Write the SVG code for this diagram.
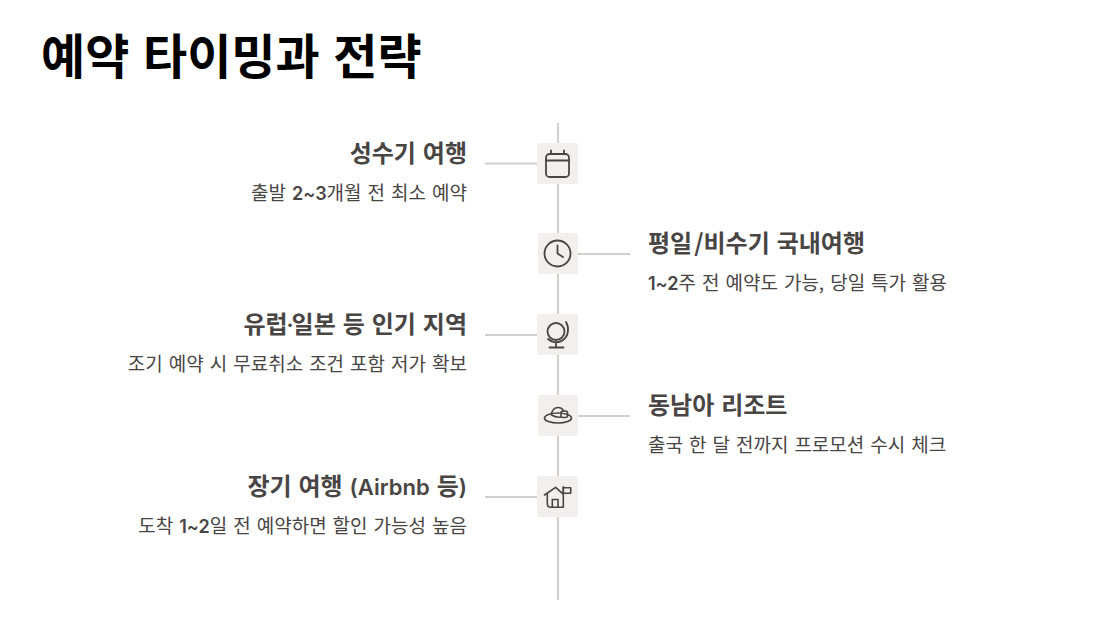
<svg xmlns="http://www.w3.org/2000/svg" width="1116" height="628" viewBox="0 0 1116 628">
<style>
text{font-family:"Noto Sans CJK KR",sans-serif;fill:#484544}
.title{font-size:48px;font-weight:700;fill:#000;word-spacing:2.750px}
.h{font-size:24px;font-weight:600;word-spacing:1.500px}
.d{font-size:19px;font-weight:400;word-spacing:1.750px}
.l{font-family:Inter,sans-serif;font-weight:600;font-size:22px}
.m{font-family:Inter,sans-serif;font-weight:600;font-size:18px}
.r{text-anchor:end}
.c{stroke:#d3cfcf;stroke-width:2;fill:none}
.b{fill:#f2efee}
.i{fill:none;stroke:#484544;stroke-width:1.6;stroke-linecap:round;stroke-linejoin:round}
.t{stroke-width:1.800}
</style>
<rect width="1116" height="628" fill="#fff"/>
<text class="title" x="41" y="74">예약 타이밍과 전략</text>
<g id="connectors">
<line class="c" x1="558" y1="123" x2="558" y2="600"/>
<line class="c" x1="485" y1="163.500" x2="538" y2="163.500"/>
<line class="c" x1="578" y1="254" x2="630" y2="254"/>
<line class="c" x1="485" y1="335" x2="538" y2="335"/>
<line class="c" x1="578" y1="416" x2="630" y2="416"/>
<line class="c" x1="485" y1="497" x2="538" y2="497"/>
</g>
<g id="node1">
<rect class="b" x="537" y="143" width="41" height="41" rx="2"/>
<rect class="i t" x="546" y="154" width="23" height="23" rx="3.500"/>
<path class="i t" d="M546 160.500H569M551 150.500V154M564 150.500V154"/>
<text class="h r" x="467" y="162">성수기 여행</text>
<text class="d r" x="467" y="200">출발 <tspan class="m">2~3</tspan>개월 전 최소 예약</text>
</g>
<g id="node2">
<rect class="b" x="538" y="233" width="40" height="41" rx="2"/>
<circle class="i t" cx="557.500" cy="253.500" r="13"/>
<path class="i t" d="M557.500 245.500V253.500L563 257"/>
<text class="h" x="648" y="252">평일<tspan dx="2">/</tspan>비수기 국내여행</text>
<text class="d" x="648" y="290"><tspan class="m">1~2</tspan>주 전 예약도 가능, 당일 특가 활용</text>
</g>
<g id="node3">
<rect class="b" x="537" y="314" width="41" height="41" rx="2"/>
<circle class="i t" cx="556" cy="331.500" r="8.500"/>
<path class="i t" d="M566 322C569.500 328 568.500 336 563 340C558.500 343.500 552 343 548 339M556 342V347.500M549.500 347.500H563.500"/>
<text class="h r" x="467" y="333">유럽<tspan class="l" dx="-1">·</tspan><tspan dx="-2">일본 등 인기 지역</tspan></text>
<text class="d r" x="467" y="371">조기 예약 시 무료취소 조건 포함 저가 확보</text>
</g>
<g id="node4">
<rect class="b" x="538" y="395" width="40" height="41" rx="2"/>
<ellipse class="i" cx="558" cy="418" rx="13.500" ry="5"/>
<path class="i" d="M551.500 415C551.500 410.500 554.500 407.500 558 407.500C560.500 407.500 562.500 408.500 563.500 411M551.500 415C555 417 558.500 417.500 561 417"/>
<rect class="i" x="561" y="411" width="6.500" height="6.500" rx="2"/>
<text class="h" x="648" y="414">동남아 리조트</text>
<text class="d" x="648" y="452">출국 한 달 전까지 프로모션 수시 체크</text>
</g>
<g id="node5">
<rect class="b" x="537" y="476" width="41" height="41" rx="2"/>
<path class="i" d="M544.500 495L555.700 487.300L562.300 493.300M547.300 494V503.500Q547.300 507.300 551 507.300H563.300M552.300 507.300V499.500H558V507.300M563.300 486.700V507.300"/>
<path class="i" d="M563.300 487.700H570.700V493.300H563.300Z"/>
<text class="h r" x="467" y="495">장기 여행 <tspan class="l">(Airbnb </tspan>등<tspan class="l">)</tspan></text>
<text class="d r" x="467" y="533">도착 <tspan class="m">1~2</tspan>일 전 예약하면 할인 가능성 높음</text>
</g>
</svg>
